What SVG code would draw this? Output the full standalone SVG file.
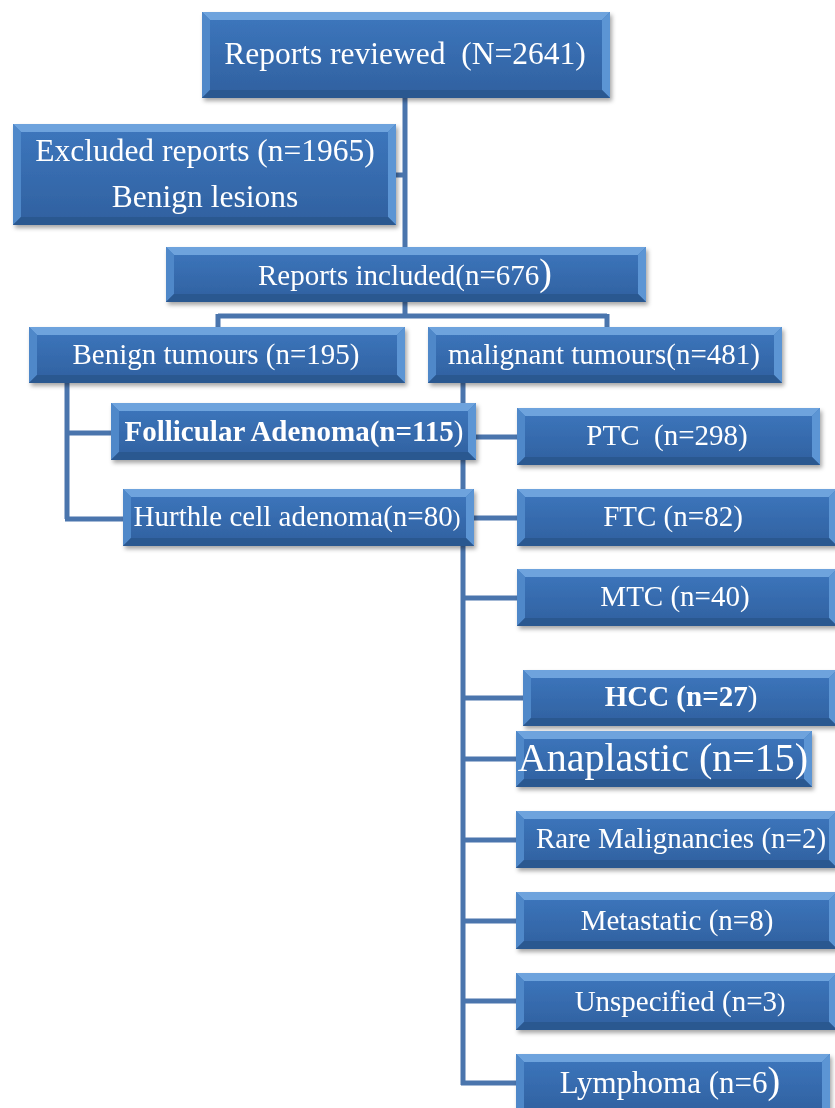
<svg xmlns="http://www.w3.org/2000/svg" width="835" height="1108" viewBox="0 0 835 1108">
<style>
.face{fill:url(#g)}
.bt{fill:#6ea3dd}
.bl{fill:#4f88c9}
.br{fill:#5c95d4}
.bb{fill:#2c5890}
.t{font-family:"Liberation Serif","Times New Roman",serif;fill:#fff;text-anchor:middle;white-space:pre}
.c{fill:none;stroke:#4a75ad;stroke-width:5}
</style>
<defs>
<linearGradient id="g" x1="0" y1="0" x2="0" y2="1">
<stop offset="0" stop-color="#3d77be"/>
<stop offset="1" stop-color="#30609f"/>
</linearGradient>
<filter id="sh" x="-5%" y="-10%" width="110%" height="130%">
<feDropShadow dx="2" dy="3" stdDeviation="2" flood-color="#000" flood-opacity="0.35"/>
</filter>
</defs>
<rect width="835" height="1108" fill="#fff"/>
<g id="connectors">
<path class="c" d="M405 98V247M396 175H405"/>
<path class="c" d="M405 302V316M218 316H607M218 314V327M607 314V327"/>
<path class="c" d="M67 383V519M65 433H111M65 519H123"/>
<path class="c" d="M463 383V1085M476 437H517M474 518H517M461 598H517M461 698H523M461 759H516M461 840H516M461 921H516M461 1001H516M461 1083H516"/>
</g>
<g id="n-reviewed" filter="url(#sh)">
<rect class="face" x="202" y="12" width="408" height="86"/>
<polygon class="bt" points="202,12 610,12 602,20 210,20"/><polygon class="bl" points="202,12 210,20 210,90 202,98"/><polygon class="br" points="610,12 610,98 602,90 602,20"/><polygon class="bb" points="202,98 210,90 602,90 610,98"/>
<text class="t" x="405" y="64" font-size="31.5" xml:space="preserve">Reports reviewed  (N=2641)</text>
</g>
<g id="n-excluded" filter="url(#sh)">
<rect class="face" x="13" y="124" width="383" height="101"/>
<polygon class="bt" points="13,124 396,124 388,132 21,132"/><polygon class="bl" points="13,124 21,132 21,217 13,225"/><polygon class="br" points="396,124 396,225 388,217 388,132"/><polygon class="bb" points="13,225 21,217 388,217 396,225"/>
<text class="t" x="205" y="161" font-size="31.5">Excluded reports (n=1965)</text>
<text class="t" x="205" y="207" font-size="31.5">Benign lesions</text>
</g>
<g id="n-included" filter="url(#sh)">
<rect class="face" x="166" y="247" width="480" height="55"/>
<polygon class="bt" points="166,247 646,247 638,255 174,255"/><polygon class="bl" points="166,247 174,255 174,294 166,302"/><polygon class="br" points="646,247 646,302 638,294 638,255"/><polygon class="bb" points="166,302 174,294 638,294 646,302"/>
<text class="t" x="405" y="285" font-size="29">Reports included(n=676<tspan font-size="38">)</tspan></text>
</g>
<g id="n-benign" filter="url(#sh)">
<rect class="face" x="29" y="327" width="376" height="56"/>
<polygon class="bt" points="29,327 405,327 397,335 37,335"/><polygon class="bl" points="29,327 37,335 37,375 29,383"/><polygon class="br" points="405,327 405,383 397,375 397,335"/><polygon class="bb" points="29,383 37,375 397,375 405,383"/>
<text class="t" x="216" y="364" font-size="29">Benign tumours (n=195)</text>
</g>
<g id="n-malignant" filter="url(#sh)">
<rect class="face" x="428" y="327" width="354" height="56"/>
<polygon class="bt" points="428,327 782,327 774,335 436,335"/><polygon class="bl" points="428,327 436,335 436,375 428,383"/><polygon class="br" points="782,327 782,383 774,375 774,335"/><polygon class="bb" points="428,383 436,375 774,375 782,383"/>
<text class="t" x="604" y="364" font-size="29">malignant tumours(n=481)</text>
</g>
<g id="n-follicular" filter="url(#sh)">
<rect class="face" x="111" y="403" width="365" height="57"/>
<polygon class="bt" points="111,403 476,403 468,411 119,411"/><polygon class="bl" points="111,403 119,411 119,452 111,460"/><polygon class="br" points="476,403 476,460 468,452 468,411"/><polygon class="bb" points="111,460 119,452 468,452 476,460"/>
<text class="t" x="294" y="441" font-size="29"><tspan font-weight="bold">Follicular Adenoma(n=115</tspan>)</text>
</g>
<g id="n-hurthle" filter="url(#sh)">
<rect class="face" x="123" y="489" width="351" height="57"/>
<polygon class="bt" points="123,489 474,489 466,497 131,497"/><polygon class="bl" points="123,489 131,497 131,538 123,546"/><polygon class="br" points="474,489 474,546 466,538 466,497"/><polygon class="bb" points="123,546 131,538 466,538 474,546"/>
<text class="t" x="297" y="526" font-size="29">Hurthle cell adenoma(n=80<tspan font-size="23">)</tspan></text>
</g>
<g id="n-ptc" filter="url(#sh)">
<rect class="face" x="517" y="408" width="303" height="57"/>
<polygon class="bt" points="517,408 820,408 812,416 525,416"/><polygon class="bl" points="517,408 525,416 525,457 517,465"/><polygon class="br" points="820,408 820,465 812,457 812,416"/><polygon class="bb" points="517,465 525,457 812,457 820,465"/>
<text class="t" x="667" y="445" font-size="29" xml:space="preserve">PTC  (n=298)</text>
</g>
<g id="n-ftc" filter="url(#sh)">
<rect class="face" x="517" y="489" width="320" height="57"/>
<polygon class="bt" points="517,489 837,489 829,497 525,497"/><polygon class="bl" points="517,489 525,497 525,538 517,546"/><polygon class="br" points="837,489 837,546 829,538 829,497"/><polygon class="bb" points="517,546 525,538 829,538 837,546"/>
<text class="t" x="673" y="526" font-size="29">FTC (n=82)</text>
</g>
<g id="n-mtc" filter="url(#sh)">
<rect class="face" x="517" y="569" width="320" height="57"/>
<polygon class="bt" points="517,569 837,569 829,577 525,577"/><polygon class="bl" points="517,569 525,577 525,618 517,626"/><polygon class="br" points="837,569 837,626 829,618 829,577"/><polygon class="bb" points="517,626 525,618 829,618 837,626"/>
<text class="t" x="675" y="606" font-size="29">MTC (n=40)</text>
</g>
<g id="n-hcc" filter="url(#sh)">
<rect class="face" x="523" y="670" width="314" height="56"/>
<polygon class="bt" points="523,670 837,670 829,678 531,678"/><polygon class="bl" points="523,670 531,678 531,718 523,726"/><polygon class="br" points="837,670 837,726 829,718 829,678"/><polygon class="bb" points="523,726 531,718 829,718 837,726"/>
<text class="t" x="681" y="706" font-size="29"><tspan font-weight="bold">HCC (n=27</tspan>)</text>
</g>
<g id="n-anaplastic" filter="url(#sh)">
<rect class="face" x="516" y="731" width="296" height="56"/>
<polygon class="bt" points="516,731 812,731 804,739 524,739"/><polygon class="bl" points="516,731 524,739 524,779 516,787"/><polygon class="br" points="812,731 812,787 804,779 804,739"/><polygon class="bb" points="516,787 524,779 804,779 812,787"/>
<text class="t" x="663" y="771" font-size="40">Anaplastic (n=15)</text>
</g>
<g id="n-rare" filter="url(#sh)">
<rect class="face" x="516" y="811" width="321" height="57"/>
<polygon class="bt" points="516,811 837,811 829,819 524,819"/><polygon class="bl" points="516,811 524,819 524,860 516,868"/><polygon class="br" points="837,811 837,868 829,860 829,819"/><polygon class="bb" points="516,868 524,860 829,860 837,868"/>
<text class="t" x="681" y="848" font-size="29">Rare Malignancies (n=2)</text>
</g>
<g id="n-metastatic" filter="url(#sh)">
<rect class="face" x="516" y="892" width="321" height="57"/>
<polygon class="bt" points="516,892 837,892 829,900 524,900"/><polygon class="bl" points="516,892 524,900 524,941 516,949"/><polygon class="br" points="837,892 837,949 829,941 829,900"/><polygon class="bb" points="516,949 524,941 829,941 837,949"/>
<text class="t" x="677" y="930" font-size="29">Metastatic (n=8)</text>
</g>
<g id="n-unspecified" filter="url(#sh)">
<rect class="face" x="516" y="973" width="321" height="57"/>
<polygon class="bt" points="516,973 837,973 829,981 524,981"/><polygon class="bl" points="516,973 524,981 524,1022 516,1030"/><polygon class="br" points="837,973 837,1030 829,1022 829,981"/><polygon class="bb" points="516,1030 524,1022 829,1022 837,1030"/>
<text class="t" x="680" y="1011" font-size="29">Unspecified (n=3<tspan font-size="25">)</tspan></text>
</g>
<g id="n-lymphoma" filter="url(#sh)">
<rect class="face" x="516" y="1054" width="314" height="60"/>
<polygon class="bt" points="516,1054 830,1054 822,1062 524,1062"/><polygon class="bl" points="516,1054 524,1062 524,1114 516,1114"/><polygon class="br" points="830,1054 830,1114 822,1114 822,1062"/>
<text class="t" x="670" y="1093" font-size="31">Lymphoma (n=6<tspan font-size="38">)</tspan></text>
</g>
</svg>
